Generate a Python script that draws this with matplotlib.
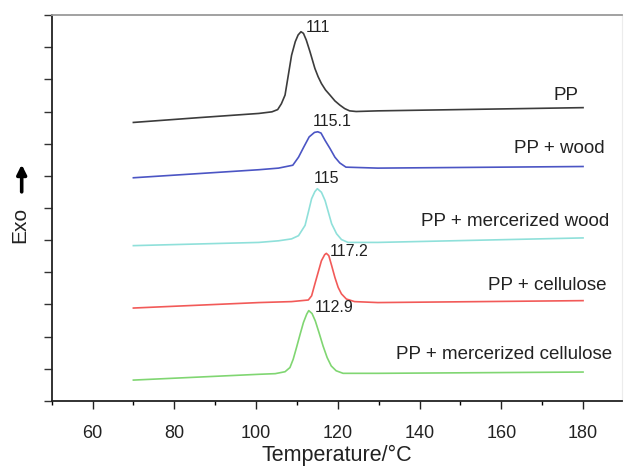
import matplotlib.pyplot as plt
from matplotlib.ticker import MultipleLocator

# DSC cooling curves (stacked, arbitrary offsets), temperature in degC
pp_t = [70, 86.1, 100.7, 103.9, 105.3, 106.2, 107.1, 107.9, 108.7, 109.6, 110.3, 111.0,
        111.6, 112.3, 113.2, 114.4, 115.2, 116.0, 117.0, 118.1, 119.3, 120.5, 121.7,
        122.9, 124.5, 129.8, 180]
pp_v = [8.66, 8.81, 8.94, 8.99, 9.06, 9.24, 9.51, 10.13, 10.75, 11.17, 11.38, 11.48,
        11.43, 11.22, 10.86, 10.34, 10.08, 9.87, 9.67, 9.51, 9.33, 9.20, 9.09,
        9.02, 9.00, 9.02, 9.12]

wood_t = [70, 100.7, 105.5, 109.0, 110.4, 111.7, 113.0, 114.3, 115.1, 115.9, 116.9,
          118.1, 119.3, 120.5, 122.0, 129.8, 180]
wood_v = [6.94, 7.19, 7.24, 7.33, 7.58, 7.90, 8.21, 8.35, 8.37, 8.33, 8.10,
          7.85, 7.58, 7.40, 7.27, 7.24, 7.29]

mwood_t = [70, 100.7, 105.5, 108.7, 110.4, 112.0, 112.8, 113.6, 114.4, 115.0, 116.0,
           116.9, 117.7, 118.5, 119.7, 120.9, 122.5, 129.8, 180]
mwood_v = [4.83, 4.93, 4.98, 5.04, 5.14, 5.46, 5.87, 6.29, 6.51, 6.60, 6.49,
           6.23, 5.87, 5.51, 5.20, 5.02, 4.93, 4.93, 5.07]

cell_t = [70, 100.7, 108.7, 112.8, 113.6, 114.4, 115.2, 116.0, 116.8, 117.2, 117.8,
          118.5, 119.3, 120.1, 120.9, 122.1, 124.1, 129.8, 180]
cell_v = [2.89, 3.06, 3.09, 3.14, 3.27, 3.64, 4.00, 4.36, 4.55, 4.59, 4.52,
          4.21, 3.84, 3.53, 3.33, 3.17, 3.09, 3.06, 3.12]

mcell_t = [70, 100.7, 104.7, 107.1, 108.3, 109.1, 109.9, 110.8, 111.6, 112.4, 112.9,
           113.7, 114.5, 115.4, 116.4, 117.4, 118.4, 119.6, 121.3, 129.8, 180]
mcell_v = [0.65, 0.83, 0.85, 0.91, 1.04, 1.30, 1.66, 2.08, 2.44, 2.70, 2.81,
           2.72, 2.49, 2.13, 1.71, 1.35, 1.09, 0.94, 0.86, 0.86, 0.90]

names = ["PP", "PP + wood", "PP + mercerized wood", "PP + cellulose",
         "PP + mercerized cellulose"]
peak_labels = ["111", "115.1", "115", "117.2", "112.9"]

curves = [(pp_t, pp_v), (wood_t, wood_v), (mwood_t, mwood_v),
          (cell_t, cell_v), (mcell_t, mcell_v)]
colors = ["#3c3c3c", "#4b55c4", "#8fe0da", "#f25a58", "#80d672"]

# where the sample names sit (right edge, vertical centre) and peak label offsets in px
name_pos = [(178.8, 9.51), (185.3, 7.85), (186.5, 5.59), (185.8, 3.58), (187.2, 1.46)]
peak_off = [(5, 4), (-5, 10), (-4, 10), (3, 2), (6, 3)]

plt.rcParams['font.family'] = ['Liberation Sans', 'DejaVu Sans']

fig = plt.figure(figsize=(6.25, 4.69), dpi=100)
ax = fig.add_axes([0.0826, 0.145, 0.9124, 0.823])

for (t, v), c, name, lab, npos, off in zip(curves, colors, names, peak_labels, name_pos, peak_off):
    ax.plot(t, v, color=c, lw=1.2, solid_joinstyle='round')
    i = v.index(max(v))
    ax.annotate(lab, xy=(t[i], v[i]), xytext=off, textcoords='offset pixels',
                ha='left', va='center', fontsize=11.5, color='#222222')
    ax.text(npos[0], npos[1], name, ha='right', va='center', fontsize=13.5, color='#222222')

ax.set_xlim(50, 189.5)
ax.set_ylim(0, 12)
ax.xaxis.set_minor_locator(MultipleLocator(10))
ax.set_xticks(range(60, 181, 20))
ax.yaxis.set_major_locator(MultipleLocator(1))
ax.set_yticklabels([])
ax.tick_params(axis='x', which='major', length=6, width=1, direction='out', pad=11,
               labelsize=13, colors='#222222')
ax.tick_params(axis='x', which='minor', length=3, width=1, direction='out')
ax.tick_params(axis='y', length=6, width=1, direction='out', colors='#333333')

for side in ['left', 'bottom']:
    ax.spines[side].set_linewidth(1.3)
    ax.spines[side].set_color('#222222')
ax.spines['top'].set_color('#9a9a9a')
ax.spines['top'].set_linewidth(1.3)
ax.spines['right'].set_color('#ececec')

ax.set_xlabel("Temperature/°C", fontsize=15.5, color='#222222', labelpad=2)

fig.text(0.032, 0.52, "Exo", rotation=90, ha='center', va='center',
         fontsize=15, color='#222222')
ax.annotate('', xy=(0.0347, 0.655), xytext=(0.0347, 0.585), xycoords='figure fraction',
            arrowprops=dict(arrowstyle='-|>', lw=2.6, color='black', mutation_scale=14))

fig.savefig("out.png", dpi=100)
